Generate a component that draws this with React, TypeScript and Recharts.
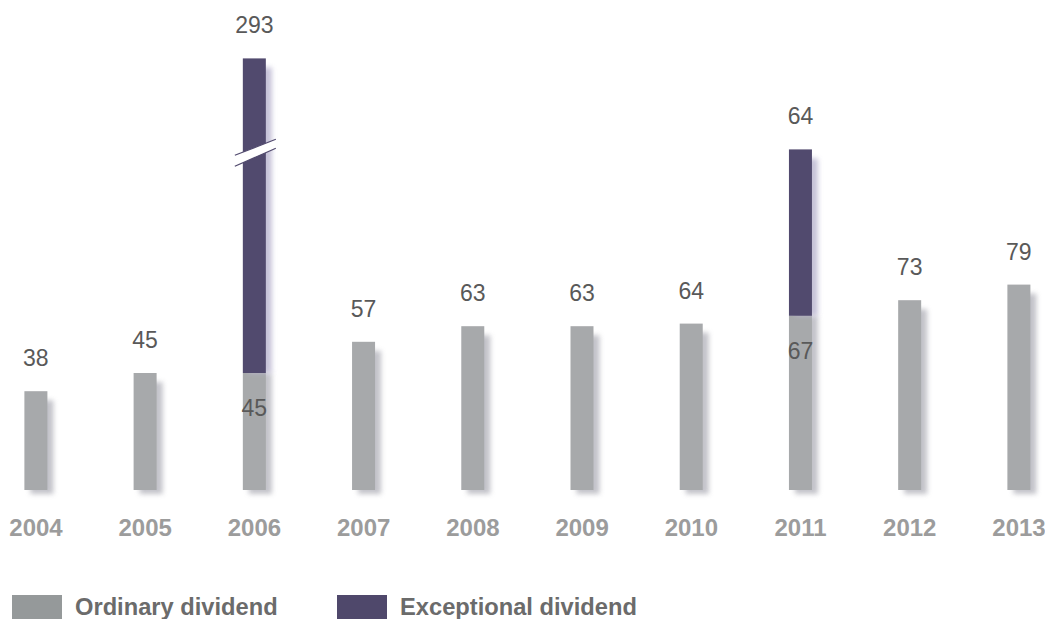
import React from "react";
import { BarChart, Bar, XAxis, YAxis, LabelList } from "recharts";

const years = ["2004", "2005", "2006", "2007", "2008", "2009", "2010", "2011", "2012", "2013"];
const ordinary = [38, 45, 45, 57, 63, 63, 64, 67, 73, 79];
const exceptional = [0, 0, 293, 0, 0, 0, 0, 64, 0, 0];
// exceptional bars taller than this are drawn cut, with a break mark
const BREAK_CAP = 121;

const GREY = "#a7a9ab";
const PURPLE = "#514a6e";
const FONT = "'Liberation Sans', Arial, sans-serif";

const legendItems = [
  { name: "Ordinary dividend", color: "#95999a" },
  { name: "Exceptional dividend", color: "#4f486b" },
];

const data = years.map((year, i) => ({
  idx: i,
  year,
  ordinary: ordinary[i],
  exceptional: exceptional[i],
  exceptionalShown: Math.min(exceptional[i], BREAK_CAP),
}));

function YearTick({ x, y, payload }: any) {
  return (
    <text x={x} y={y + 37} textAnchor="middle" dominantBaseline="central"
      fill="#9c9c9c" fontSize={24} fontWeight="bold" fontFamily={FONT}>
      {years[payload.value]}
    </text>
  );
}

function OrdinaryShape(props: any) {
  const { x, y, width, height, payload } = props;
  const stacked = payload.exceptional > 0;
  return (
    <g>
      <rect x={x + 6} y={stacked ? y : y + 9} width={width} height={stacked ? height + 4 : height - 5}
        fill="#b4b4bc" opacity={0.8} filter="url(#blurShadow)" />
      <rect x={x} y={y} width={width} height={height} fill={GREY} />
    </g>
  );
}

function ExceptionalShape(props: any) {
  const { x, y, width, height, payload } = props;
  if (!height) return null;
  const broken = payload.exceptional > payload.exceptionalShown;
  const c = y + height * 0.3;
  return (
    <g>
      <rect x={x + 6} y={y + 9} width={width} height={height - 9}
        fill="#bcb8d2" opacity={0.85} filter="url(#blurShadow)" />
      <rect x={x} y={y} width={width} height={height} fill={PURPLE} />
      {broken && (
        <g>
          <polygon
            points={`${x - 8},${c + 2.5} ${x + width + 10},${c - 13.5} ${x + width + 10},${c - 4.5} ${x - 8},${c + 13.5}`}
            fill="#fff" />
          <line x1={x - 8} y1={c + 2.5} x2={x + width + 10} y2={c - 13.5} stroke={PURPLE} strokeWidth={1.2} />
          <line x1={x - 8} y1={c + 13.5} x2={x + width + 10} y2={c - 4.5} stroke={PURPLE} strokeWidth={1.2} />
        </g>
      )}
    </g>
  );
}

function OrdinaryLabel(props: any) {
  const { x, y, width, value, index } = props;
  const inside = exceptional[index] > 0;
  return (
    <text x={x + width / 2} y={inside ? y + 35 : y - 33} textAnchor="middle" dominantBaseline="central"
      fill="#595959" fontSize={23} fontFamily={FONT}>
      {value}
    </text>
  );
}

function ExceptionalLabel(props: any) {
  const { x, y, width, value } = props;
  if (!value) return null;
  return (
    <text x={x + width / 2} y={y - 33} textAnchor="middle" dominantBaseline="central"
      fill="#595959" fontSize={23} fontFamily={FONT}>
      {value}
    </text>
  );
}

export default function App() {
  return (
    <div style={{ position: "absolute", left: 0, top: 0, width: 1045, height: 619, background: "#fff", fontFamily: FONT }}>
      <BarChart width={1045} height={619} data={data} margin={{ top: 22, right: 26, left: 36, bottom: 69 }}>
        <defs>
          <filter id="blurShadow" x="-50%" y="-20%" width="200%" height="140%">
            <feGaussianBlur stdDeviation="2.5" />
          </filter>
        </defs>
        <XAxis dataKey="idx" type="number" domain={[0, 9]} ticks={years.map((_, i) => i)}
          height={60} axisLine={false} tickLine={false} tickSize={0} tickMargin={0}
          tick={<YearTick />} interval={0} />
        <YAxis hide domain={[0, 180]} />
        <Bar dataKey="ordinary" stackId="a" barSize={23} shape={<OrdinaryShape />} isAnimationActive={false}>
          <LabelList dataKey="ordinary" content={<OrdinaryLabel />} />
        </Bar>
        <Bar dataKey="exceptionalShown" stackId="a" barSize={23} shape={<ExceptionalShape />} isAnimationActive={false}>
          <LabelList dataKey="exceptional" content={<ExceptionalLabel />} />
        </Bar>
      </BarChart>
      <div style={{ position: "absolute", left: 12, top: 594, display: "flex", alignItems: "center" }}>
        {legendItems.map((item, i) => (
          <div key={item.name} style={{ display: "flex", alignItems: "center", position: "absolute", left: i === 0 ? 0 : 325, top: 0 }}>
            <div style={{ width: 50, height: 26, background: item.color, marginRight: 13 }} />
            <span style={{ fontSize: 23.7, fontWeight: "bold", color: "#6b6b6b", whiteSpace: "nowrap" }}>{item.name}</span>
          </div>
        ))}
      </div>
    </div>
  );
}
